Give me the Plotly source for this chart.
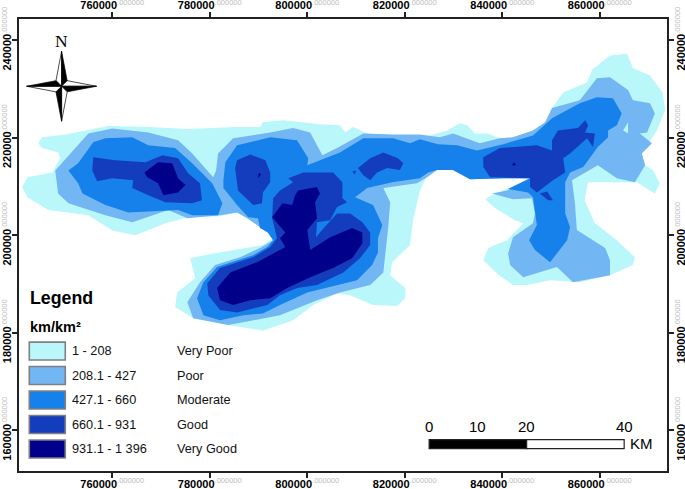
import plotly.graph_objects as go

W, H = 685, 489
FRAME = dict(l=18.7, r=667.0, t=18.7, b=471.0)
X_RANGE = [740872, 873788]
Y_RANGE = [151680, 244364]

class_names = ["1 - 208", "208.1 - 427", "427.1 - 660", "660.1 - 931", "931.1 - 1 396"]
class_labels = ["Very Poor", "Poor", "Moderate", "Good", "Very Good"]
class_colors = ["#B9F7FB", "#72B7F4", "#1681EB", "#143DBE", "#00008B"]

x_ticks = [760000, 780000, 800000, 820000, 840000, 860000]
y_ticks = [160000, 180000, 200000, 220000, 240000]
scale_km = [0, 10, 20, 40]

# Zone outlines: (easting km, northing km)
very_poor = [[(744.8,218.9),(745.6,220.1),(750.4,220.7),(759.2,222.4),(767.4,222.2),(775.6,221.8),(785.2,222.2),(790.3,222.2),(790.9,223.2),(795.1,223.6),(802.6,222.8),(806.7,222.6),(807.8,221.1),(809.4,222.2),(812.3,220.9),(818.0,220.5),(825.2,220.5),(828.7,221.5),(831.3,223.0),(832.8,222.6),(834.4,220.9),(836.9,220.9),(839.5,219.9),(842.2,220.1),(846.3,221.5),(848.8,223.2),(850.2,226.1),(852.5,229.3),(857.4,231.4),(858.4,233.9),(862.1,236.9),(865.6,237.3),(866.8,234.3),(870.3,232.8),(872.9,229.3),(873.4,225.7),(871.7,221.5),(870.3,219.5),(868.6,216.8),(869.3,214.4),(870.9,213.4),(872.3,210.7),(871.3,208.6),(867.6,210.9),(857.6,210.9),(856.9,207.2),(859.0,202.5),(863.5,199.0),(867.2,195.5),(866.8,193.9),(862.1,191.8),(855.9,190.4),(849.8,190.8),(845.1,189.8),(842.2,189.8),(838.9,192.2),(836.1,194.9),(837.1,197.4),(841.0,199.0),(844.3,202.5),(842.6,203.1),(838.5,205.6),(836.5,207.4),(837.9,208.2),(845.7,211.7),(840.2,211.7),(833.4,211.5),(829.9,213.4),(826.6,213.4),(824.6,212.3),(823.1,209.2),(821.7,203.1),(821.1,198.0),(817.4,194.5),(817.0,191.8),(820.1,189.2),(820.1,187.1),(818.4,185.5),(813.5,185.7),(808.8,187.7),(806.1,188.1),(801.2,185.7),(797.1,182.6),(790.9,180.5),(783.8,181.6),(776.6,183.0),(772.9,185.3),(773.3,188.3),(777.0,191.2),(776.0,195.3),(780.7,196.3),(790.9,198.0),(793.0,199.4),(791.8,201.0),(787.7,203.5),(785.6,204.7),(782.1,203.9),(775.6,203.7),(770.9,202.5),(764.7,200.0),(760.0,201.0),(755.1,204.1),(746.9,205.2),(742.6,207.8),(741.5,209.9),(742.6,211.9),(747.7,212.9),(749.3,215.8),(748.9,217.0),(745.6,217.9)]]
poor = [[(748.3,213.3),(752.0,217.4),(755.1,220.9),(760.0,221.9),(767.4,221.1),(773.5,219.5),(776.4,216.8),(780.7,211.9),(781.3,213.3),(781.7,216.8),(784.8,219.9),(792.4,221.1),(797.1,222.0),(800.6,221.1),(803.1,216.4),(806.1,217.9),(811.5,220.9),(817.6,220.7),(823.1,220.7),(827.2,220.1),(829.9,220.9),(835.4,218.9),(839.5,219.9),(842.2,220.1),(846.3,221.5),(848.8,223.2),(850.2,226.1),(855.9,227.7),(859.4,232.2),(862.1,232.4),(865.8,229.8),(866.8,227.7),(870.3,227.1),(871.3,225.0),(869.7,221.1),(868.2,220.9),(870.7,218.9),(868.6,216.8),(869.3,214.4),(867.2,210.9),(863.5,211.7),(859.6,214.4),(854.3,211.3),(854.9,206.6),(855.3,201.1),(861.1,197.4),(862.1,194.9),(862.1,191.8),(854.5,190.4),(851.2,193.5),(844.3,191.4),(841.6,193.9),(841.2,196.3),(842.2,199.6),(846.3,202.5),(846.7,204.5),(846.1,207.6),(842.2,207.4),(837.9,208.6),(841.0,209.2),(845.7,211.7),(840.2,211.7),(833.4,211.5),(829.9,213.4),(826.6,213.4),(824.6,211.9),(822.5,210.7),(815.6,209.7),(817.0,206.8),(816.6,201.5),(816.0,195.9),(815.6,192.4),(812.9,189.8),(806.7,188.3),(802.0,186.7),(794.4,183.6),(783.8,181.6),(776.6,183.0),(775.4,186.3),(778.0,190.4),(781.1,193.9),(786.2,195.5),(790.3,197.4),(793.0,199.0),(791.8,200.6),(787.7,203.5),(785.6,204.7),(782.1,204.1),(775.4,203.5),(771.5,205.2),(764.1,202.7),(758.6,204.1),(751.0,206.6),(748.9,208.6)]]
poor_gap = [[(865.8,223.2),(864.8,221.5),(865.8,220.9)]]
moderate = [[(751.0,213.3),(753.0,214.8),(756.1,219.1),(758.6,219.9),(764.1,220.1),(767.4,218.5),(772.9,217.9),(776.4,214.8),(780.5,210.7),(782.6,206.6),(781.7,204.1),(776.4,204.1),(773.5,205.2),(763.3,204.7),(758.6,206.2),(753.9,208.6),(753.0,210.7)],
            [(782.8,211.3),(783.2,215.0),(785.6,218.5),(792.4,220.1),(797.9,219.5),(800.2,215.8),(800.0,214.4),(802.6,215.4),(806.7,217.0),(811.5,219.9),(817.6,219.9),(821.1,218.9),(823.1,219.7),(826.8,218.7),(830.7,218.5),(834.8,217.4),(840.2,218.7),(846.3,220.5),(850.2,224.0),(855.9,227.1),(859.4,228.3),(862.7,228.1),(864.5,225.0),(863.5,222.6),(861.7,221.5),(861.7,220.1),(859.6,218.1),(856.6,214.0),(853.9,212.9),(852.9,210.9),(852.9,204.5),(853.9,201.7),(853.3,199.0),(849.8,194.5),(846.7,197.0),(845.5,199.0),(847.1,202.1),(846.3,207.8),(845.3,208.8),(841.2,209.5),(845.7,211.7),(840.2,211.7),(833.4,211.5),(829.9,213.4),(826.6,213.4),(824.8,212.9),(823.1,211.7),(817.4,210.9),(812.3,209.7),(809.8,207.8),(813.5,206.2),(815.4,202.1),(814.5,199.4),(814.5,196.5),(813.3,193.9),(810.2,190.8),(804.1,189.4),(800.0,188.3),(794.4,185.7),(790.9,184.0),(786.9,183.6),(782.1,182.6),(778.7,183.6),(777.4,187.1),(778.7,190.4),(781.5,193.5),(788.9,195.9),(791.8,197.6),(793.0,199.0),(792.0,200.6),(790.3,201.5),(789.9,203.5),(787.9,203.7),(785.6,206.2),(782.8,209.7)]]
good = [[(756.1,216.0),(760.6,215.4),(766.8,215.0),(770.3,216.4),(773.5,215.8),(775.6,212.7),(778.0,210.7),(778.4,207.2),(776.4,206.6),(770.9,206.8),(767.4,208.2),(764.1,209.7),(764.3,211.3),(760.0,211.7),(756.9,211.1),(755.9,213.3)],
        [(785.2,213.8),(785.6,215.4),(788.3,216.6),(791.4,215.4),(792.4,212.9),(792.4,210.9),(790.9,208.8),(790.7,206.6),(788.9,206.2),(785.8,209.2)],
        [(796.1,211.7),(799.2,212.9),(805.3,212.9),(807.2,210.9),(807.2,207.6),(808.2,206.8),(806.1,205.8),(804.7,203.1),(802.0,202.7),(801.8,199.6),(803.3,201.4),(806.1,204.5),(808.8,204.5),(811.3,202.7),(812.9,200.6),(812.9,198.0),(810.8,195.3),(807.4,192.4),(802.0,189.8),(797.9,189.2),(794.4,187.7),(791.8,185.7),(785.6,184.2),(782.1,184.7),(779.7,187.7),(779.5,190.2),(782.1,193.3),(788.9,195.5),(792.4,197.6),(793.8,199.4),(792.8,203.5),(793.0,207.6),(794.4,209.2),(797.1,210.9)],
        [(810.4,213.8),(812.9,215.8),(815.6,217.0),(818.6,215.8),(819.7,214.8),(819.0,213.4),(816.4,213.8),(814.3,212.9),(812.9,211.3),(811.5,212.3)],
        [(809.2,213.1),(810.0,213.3),(809.8,212.5)],
        [(836.1,214.8),(836.1,216.0),(839.5,217.9),(847.1,218.5),(850.2,217.4),(850.2,219.5),(851.4,221.5),(855.5,222.0),(857.0,223.6),(857.6,222.6),(857.0,221.1),(859.0,220.9),(858.6,218.1),(857.4,219.9),(853.9,216.8),(852.5,215.8),(852.9,212.9),(850.4,211.3),(847.1,208.8),(845.7,209.9),(845.7,211.7),(840.2,211.9),(837.5,211.9),(836.1,214.0)],
        [(847.7,208.6),(849.2,209.0),(850.4,207.2),(849.4,207.2)]]
very_good = [[(766.6,212.9),(769.4,215.0),(772.3,214.8),(773.5,211.7),(775.0,210.3),(773.5,208.8),(770.5,208.2),(769.4,210.7),(767.2,211.9)],
             [(798.1,209.2),(802.0,209.9),(802.6,208.6),(801.6,206.8),(802.0,203.5),(800.0,201.1),(800.6,197.0),(804.7,199.6),(809.2,201.5),(811.3,200.6),(811.3,198.4),(809.2,195.3),(805.3,193.3),(800.6,191.4),(795.9,189.2),(792.4,187.1),(788.3,186.7),(784.8,185.7),(782.1,186.7),(781.5,189.2),(784.2,192.4),(789.7,194.5),(795.5,197.6),(794.4,199.4),(795.5,200.6),(792.8,203.7),(794.9,206.6),(796.9,206.2),(797.5,208.2)],
             [(789.9,211.7),(790.5,212.5),(790.1,212.9)],
             [(842.0,214.4),(842.8,214.4),(842.4,215.0)]]
zones = [very_poor, poor, moderate, good, very_good]


def px(x, y):
    return (x - FRAME["l"]) / (FRAME["r"] - FRAME["l"]), (FRAME["b"] - y) / (FRAME["b"] - FRAME["t"])


def rings(polys):
    xs, ys = [], []
    for p in polys:
        xs += [v[0] * 1000 for v in p] + [p[0][0] * 1000, None]
        ys += [v[1] * 1000 for v in p] + [p[0][1] * 1000, None]
    return xs, ys


fig = go.Figure()
for i, (polys, name, col) in enumerate(zip(zones, class_names, class_colors)):
    xs, ys = rings(polys)
    fig.add_trace(go.Scatter(x=xs, y=ys, mode="lines", fill="toself", fillcolor=col,
                             line=dict(width=0, color=col), name=name, hoverinfo="name"))
    if i == 1:
        xs, ys = rings(poor_gap)
        fig.add_trace(go.Scatter(x=xs, y=ys, mode="lines", fill="toself", fillcolor=class_colors[0],
                                 line=dict(width=0, color=class_colors[0]), name=class_names[0], hoverinfo="skip"))
fig.add_trace(go.Scatter(x=[], y=[], xaxis="x2", yaxis="y2", hoverinfo="skip"))


def tick_text(v):
    return f'<b>{v}</b><sup><span style="font-size:7.5px;color:#bdbdbd">.000000</span></sup>'


common = dict(showgrid=False, zeroline=False, showline=True, linecolor="#222", linewidth=1.6,
              ticks="outside", ticklen=5.5, tickwidth=1.6, tickcolor="#222", ticklabelstandoff=-2,
              tickfont=dict(family="Liberation Sans", size=11, color="#000"))
bottom = {**common, "ticklabelstandoff": -4}
left = {**common, "ticklabelstandoff": -4}
right = {**common, "ticklabelstandoff": -3}
fig.update_layout(
    width=W, height=H, showlegend=False, paper_bgcolor="white", plot_bgcolor="white",
    margin=dict(l=FRAME["l"], r=W - FRAME["r"], t=FRAME["t"], b=H - FRAME["b"], pad=0, autoexpand=False),
    xaxis=dict(range=X_RANGE, side="bottom", anchor="y", tickmode="array", tickvals=x_ticks,
               ticktext=[tick_text(v) for v in x_ticks], **bottom),
    yaxis=dict(range=Y_RANGE, side="left", anchor="x", tickmode="array", tickvals=y_ticks,
               ticktext=[tick_text(v) for v in y_ticks], tickangle=-90, **left),
    xaxis2=dict(range=X_RANGE, side="top", anchor="y2", overlaying="x", tickmode="array", tickvals=x_ticks,
                ticktext=[tick_text(v) for v in x_ticks], **common),
    yaxis2=dict(range=Y_RANGE, side="right", anchor="x2", overlaying="y", tickmode="array", tickvals=y_ticks,
                ticktext=[tick_text(v) for v in y_ticks], tickangle=-90, **right),
)

shapes, notes = [], []


def text(x, y, s, size, family="Liberation Sans", anchor="left", color="#000"):
    fx, fy = px(x, y)
    notes.append(dict(x=fx, y=fy, xref="paper", yref="paper", text=s, showarrow=False, xanchor=anchor,
                      yanchor="middle", font=dict(family=family, size=size, color=color), borderpad=0))


# Legend
text(29, 298, "<b>Legend</b>", 17.8)
text(29, 327, "<b>km/km²</b>", 14.5)
for i, (name, lab, col) in enumerate(zip(class_names, class_labels, class_colors)):
    y0 = 342 + i * 24.5
    a, b = px(29, y0), px(65, y0 + 18)
    shapes.append(dict(type="rect", xref="paper", yref="paper", x0=a[0], y0=a[1], x1=b[0], y1=b[1],
                       fillcolor=col, line=dict(color="#808080", width=1.6)))
    text(71, y0 + 9, name, 12.7, color="#111")
    text(176, y0 + 9, lab, 12.7, color="#111")

# Scale bar (map units)
bar_x0, bar_y0, bar_y1 = 825000, 156250, 158100
shapes.append(dict(type="rect", x0=bar_x0, x1=bar_x0 + 20000, y0=bar_y0, y1=bar_y1,
                   fillcolor="black", line=dict(color="#222", width=1.2)))
shapes.append(dict(type="rect", x0=bar_x0 + 20000, x1=bar_x0 + 40000, y0=bar_y0, y1=bar_y1,
                   fillcolor="white", line=dict(color="#222", width=1.2)))
for k in scale_km:
    notes.append(dict(x=bar_x0 + k * 1000, y=160800, text=str(k), showarrow=False, xanchor="center",
                      yanchor="middle", font=dict(family="Liberation Sans", size=15, color="#000")))
notes.append(dict(x=bar_x0 + 40000 + 700, y=157250, text="KM", showarrow=False, xanchor="left", yanchor="middle",
                  font=dict(family="Liberation Sans", size=15, color="#000")))

# North arrow
cx, cy = 61.3, 86.0
text(cx, 40.5, "N", 17.5, family="Liberation Serif", anchor="center")
arm, inner = 35.0, 5.6
arms = [((0, -arm), (-inner, -inner), "white"), ((0, -arm), (inner, -inner), "black"),
        ((arm, 0), (inner, -inner), "white"), ((arm, 0), (inner, inner), "black"),
        ((0, arm), (inner, inner), "white"), ((0, arm), (-inner, inner), "black"),
        ((-arm, 0), (-inner, inner), "white"), ((-arm, 0), (-inner, -inner), "black")]
for tip, side, col in arms:
    pts = [px(cx, cy), px(cx + tip[0], cy + tip[1]), px(cx + side[0], cy + side[1])]
    path = "M" + " L".join(f"{a:.5f},{b:.5f}" for a, b in pts) + " Z"
    shapes.append(dict(type="path", xref="paper", yref="paper", path=path, fillcolor=col,
                       line=dict(color="black", width=0.7)))

fig.update_layout(shapes=shapes, annotations=notes)
fig.write_html("out.html", config=dict(displayModeBar=False),
               post_script="document.body.style.margin='0';document.body.style.overflow='hidden';")
